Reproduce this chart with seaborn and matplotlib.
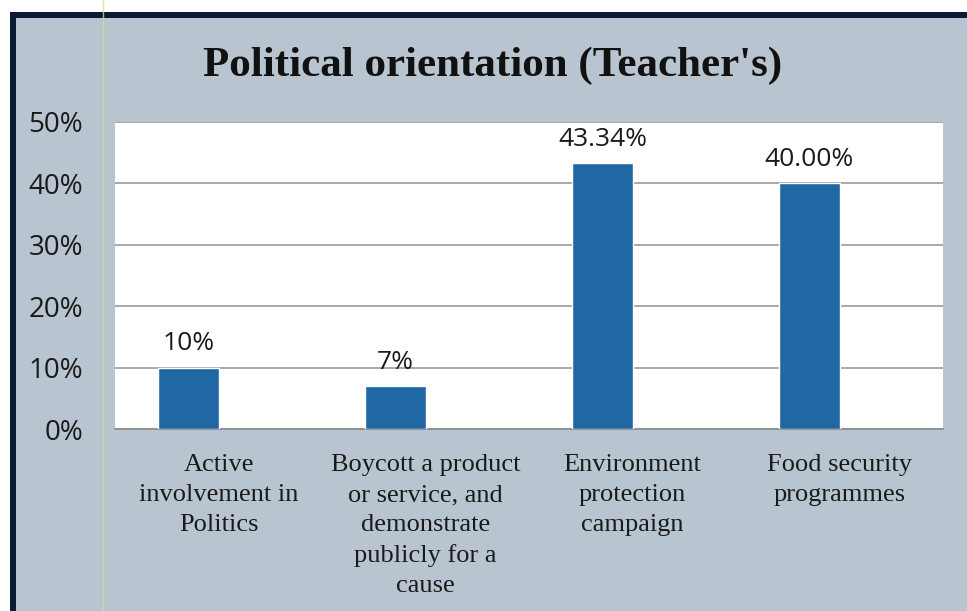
import matplotlib
matplotlib.use("Agg")
import matplotlib.pyplot as plt
from matplotlib.patches import Rectangle
from matplotlib.lines import Line2D
from matplotlib.ticker import FuncFormatter
import seaborn as sns
import pandas as pd
import numpy as np

# Survey results (clustered layout: second series slot left empty)
categories = [
    "Active\ninvolvement in\nPolitics",
    "Boycott a product\nor service, and\ndemonstrate\npublicly for a\ncause",
    "Environment\nprotection\ncampaign",
    "Food security\nprogrammes",
]
values = [10.0, 7.0, 43.34, 40.00]
value_labels = ["10%", "7%", "43.34%", "40.00%"]
series = ["Teachers", "Other"]
y_ticks = [0, 10, 20, 30, 40, 50]

title = "Political orientation (Teacher's)"

bg = "#b8c4cf"
bar_color = "#1f68a3"
frame_color = "#0d1a33"

sns.set_theme(style="white")
plt.rcParams["font.family"] = ["DejaVu Sans"]

fig = plt.figure(figsize=(9.67, 6.11), dpi=100)
fig.patch.set_facecolor("white")

# Chart panel with a dark frame on the top and left
W, H = 967, 611
fig.patches.append(Rectangle((10 / W, 0), 1 - 10 / W, 1 - 12 / H, transform=fig.transFigure,
                             facecolor=frame_color, edgecolor="none", zorder=-10))
fig.patches.append(Rectangle((16 / W, 0), 1 - 16 / W, 1 - 18 / H, transform=fig.transFigure,
                             facecolor=bg, edgecolor="none", zorder=-9))
fig.lines.append(Line2D([103 / W, 103 / W], [0, 1], transform=fig.transFigure,
                        color="#d8d890", lw=1.0, alpha=0.8, zorder=-8))

ax = fig.add_axes([115 / W, 1 - 429 / H, (943 - 115) / W, (429 - 122) / H])
ax.set_facecolor("white")

df = pd.DataFrame({
    "category": categories * 2,
    "series": [series[0]] * len(categories) + [series[1]] * len(categories),
    "value": values + [np.nan] * len(categories),
})
sns.barplot(data=df, x="category", y="value", hue="series", hue_order=series,
            order=categories, palette=[bar_color, bar_color], saturation=1,
            width=0.58, dodge=True, legend=False, ax=ax, zorder=3)

ax.set_xlim(-0.5, 3.5)
ax.set_ylim(0, 50)
ax.set_yticks(y_ticks)
ax.yaxis.set_major_formatter(FuncFormatter(lambda v, _: f"{v:.0f}%"))
ax.grid(axis="y", color="#9a9a9a", lw=1.2, zorder=0)
ax.set_axisbelow(True)
for side in ["top", "right", "left"]:
    ax.spines[side].set_visible(False)
ax.spines["bottom"].set_color("#8a8a8a")
ax.spines["bottom"].set_linewidth(1.2)

ax.set_xlabel("")
ax.set_ylabel("")
ax.tick_params(axis="y", length=0, pad=23, labelsize=20, labelcolor="#1a1a1a")
ax.tick_params(axis="x", length=0, pad=18)
for lab in ax.get_yticklabels():
    lab.set_fontfamily(["Open Sans", "DejaVu Sans"])
ax.set_xticks(range(len(categories)))
ax.set_xticklabels(categories, fontfamily="Liberation Serif", fontsize=19,
                   color="#1a1a1a", linespacing=1.47, va="top")

bars = ax.containers[0]
ax.bar_label(bars, labels=value_labels, padding=8, fontsize=19, color="#1a1a1a",
             fontfamily=["Open Sans", "DejaVu Sans"], zorder=4)

fig.text(493 / W, 1 - 66 / H, title, ha="center", va="center",
         fontfamily="Liberation Serif", fontweight="bold", fontsize=31, color="#111111")

fig.savefig("out.png", dpi=100, facecolor=fig.get_facecolor())
